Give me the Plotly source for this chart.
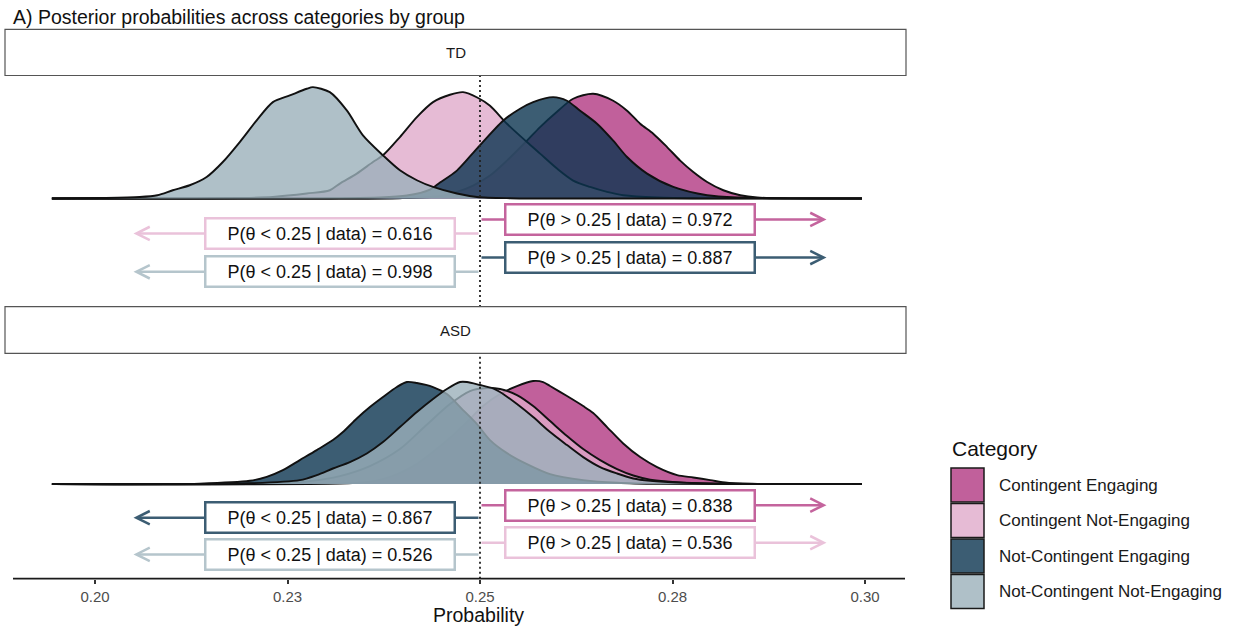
import plotly.graph_objects as go

W, H = 1245, 627

# ---------------- data ----------------
categories = ["Contingent Engaging", "Contingent Not-Engaging",
              "Not-Contingent Engaging", "Not-Contingent Not-Engaging"]
groups = ["TD", "ASD"]

# TD posterior densities (scaled density)
td_ce_x = [0.1944, 0.2396, 0.2448, 0.2470, 0.2491, 0.2513, 0.2535, 0.2561, 0.2578, 0.2600, 0.2621,
           0.2647, 0.2673, 0.2691, 0.2708, 0.2725, 0.2743, 0.2760, 0.2777, 0.2795, 0.2816, 0.2838,
           0.2860, 0.2903, 0.2996]
td_ce_y = [0, 0.3, 2.3, 6.6, 13, 23, 38, 58, 71.6, 87, 100,
           105, 98, 88, 75, 65, 51.6, 38, 26.6, 16.6, 8.3, 3.3,
           1, 0.2, 0]

td_cne_x = [0.1944, 0.2136, 0.2188, 0.2231, 0.2275, 0.2305, 0.2318, 0.2340, 0.2361, 0.2374, 0.2396,
            0.2418, 0.2439, 0.2461, 0.2478, 0.2497, 0.2513, 0.2535, 0.2561, 0.2578, 0.2600, 0.2621,
            0.2643, 0.2665, 0.2686, 0.2730, 0.2786, 0.2996]
td_cne_y = [0, 0.2, 0.6, 1.6, 5, 8.3, 15, 25, 36.6, 43.3, 61.6,
            81.6, 96.6, 104, 106.6, 101, 93, 75, 56.6, 45, 30, 18,
            11.6, 6.6, 3.3, 1, 0.2, 0]

td_nce_x = [0.1944, 0.2305, 0.2370, 0.2405, 0.2435, 0.2448, 0.2470, 0.2496, 0.2530, 0.2552, 0.2569,
            0.2595, 0.2613, 0.2630, 0.2652, 0.2673, 0.2691, 0.2717, 0.2751, 0.2795, 0.2838, 0.2890,
            0.2996]
td_nce_y = [0, 0.3, 1, 3, 9, 16, 28, 50, 78, 90, 96.6,
            101.6, 98, 88, 75, 58, 41.6, 25, 11.6, 3.3, 1, 0.2,
            0]

td_ncne_x = [0.1944, 0.2007, 0.2058, 0.2081, 0.2101, 0.2123, 0.2145, 0.2166, 0.2188, 0.2210, 0.2231,
             0.2253, 0.2275, 0.2283, 0.2305, 0.2327, 0.2348, 0.2374, 0.2396, 0.2418, 0.2439, 0.2470,
             0.2496, 0.2539, 0.2600, 0.2996]
td_ncne_y = [0, 0.5, 1.5, 3.3, 8.3, 13.3, 21.6, 36.6, 56.6, 78.3, 96.6,
             103.3, 110, 111.6, 106.6, 88.3, 63.3, 43.3, 28.3, 18.3, 11.6, 5,
             1.6, 0.3, 0, 0]

# ASD posterior densities
asd_ce_x = [0.1944, 0.2318, 0.2353, 0.2374, 0.2396, 0.2418, 0.2439, 0.2461, 0.2483, 0.2504, 0.2526,
            0.2548, 0.2569, 0.2582, 0.2591, 0.2613, 0.2634, 0.2647, 0.2665, 0.2686, 0.2708, 0.2730,
            0.2756, 0.2777, 0.2799, 0.2821, 0.2864, 0.2996]
asd_ce_y = [0, 0.5, 2, 5, 11, 20, 32, 46, 62, 78, 90,
            98, 103, 102, 98, 88, 78, 71, 57, 40.6, 27, 17,
            9, 6.6, 4, 1.3, 0.2, 0]

asd_cne_x = [0.1944, 0.2214, 0.2279, 0.2318, 0.2357, 0.2396, 0.2429, 0.2461, 0.2487, 0.2509, 0.2526,
             0.2548, 0.2569, 0.2591, 0.2613, 0.2634, 0.2656, 0.2678, 0.2699, 0.2721, 0.2764, 0.2825,
             0.2996]
asd_cne_y = [0, 0.5, 3, 8, 18, 35, 58, 80, 93, 96, 95,
             89, 78, 63, 48, 35, 24, 15, 8.6, 4.5, 1.5, 0.3,
             0]

asd_nce_x = [0.1944, 0.2136, 0.2201, 0.2223, 0.2244, 0.2266, 0.2288, 0.2309, 0.2322, 0.2340, 0.2357,
             0.2374, 0.2392, 0.2405, 0.2418, 0.2439, 0.2457, 0.2478, 0.2496, 0.2513, 0.2535, 0.2561,
             0.2591, 0.2634, 0.2678, 0.2734, 0.2996]
asd_nce_y = [0, 0.5, 3.3, 7.3, 14, 24, 34, 44, 52, 65.6, 77,
             87, 97, 102, 101, 97, 90, 74, 60, 44, 31, 20,
             10, 4, 1.3, 0.2, 0]

asd_ncne_x = [0.1944, 0.2188, 0.2266, 0.2288, 0.2309, 0.2331, 0.2353, 0.2374, 0.2396, 0.2418, 0.2439,
              0.2457, 0.2474, 0.2483, 0.2500, 0.2517, 0.2526, 0.2548, 0.2569, 0.2591, 0.2613, 0.2634,
              0.2656, 0.2678, 0.2699, 0.2721, 0.2764, 0.2812, 0.2996]
asd_ncne_y = [0, 0.5, 4, 9, 15.6, 22, 30.6, 42, 57, 72, 85,
              95, 102, 102, 99, 95.6, 92, 80, 67, 52, 39, 27,
              17, 10.6, 5.6, 3.3, 1.3, 0.3, 0]

# posterior tail probabilities
td_ops = [">", "<", ">", "<"]
td_probs = [0.972, 0.616, 0.887, 0.998]
asd_ops = [">", ">", "<", "<"]
asd_probs = [0.838, 0.536, 0.867, 0.526]

threshold = 0.25
tick_vals = [0.20, 0.225, 0.25, 0.275, 0.30]
tick_text = ["0.20", "0.23", "0.25", "0.28", "0.30"]

# ---------------- styles ----------------
solid_cols = ["#C1609B", "#E6BBD5", "#3C5D73", "#AFC0C8"]
fill_cols = ["rgba(178,56,130,0.8)", "rgba(224,170,203,0.8)",
             "rgba(11,53,80,0.8)", "rgba(155,176,186,0.8)"]
border_cols = ["#C4649D", "#EAC2DA", "#3C5D73", "#B5C5CC"]

FONT = "Liberation Sans, Arial, Helvetica, sans-serif"


def fx(px):
    return px / W


def fy(py):
    return 1 - py / H


x_range = [0.25 - 475 / 7700, 0.25 + 426 / 7700]
x_dom = [fx(5), fx(906)]

panels = {
    "TD": dict(xa="x", ya="y", yrange=[-108.7, 123.3], ydom=[fy(307), fy(75.5)],
               xs=[td_ce_x, td_cne_x, td_nce_x, td_ncne_x],
               ys=[td_ce_y, td_cne_y, td_nce_y, td_ncne_y],
               ops=td_ops, probs=td_probs, box_y=[-21, -35, -59.2, -73.4],
               strip=[29.3, 75.5]),
    "ASD": dict(xa="x2", ya="y2", yrange=[-94.5, 130.7], ydom=[fy(578.7), fy(353.3)],
                xs=[asd_ce_x, asd_cne_x, asd_nce_x, asd_ncne_x],
                ys=[asd_ce_y, asd_cne_y, asd_nce_y, asd_ncne_y],
                ops=asd_ops, probs=asd_probs, box_y=[-21, -58.5, -33.5, -70.2],
                strip=[306.7, 353.3]),
}

fig = go.Figure()
shapes = []
annotations = []

for g in groups:
    p = panels[g]
    for i, cat in enumerate(categories):
        fig.add_trace(go.Scatter(
            x=p["xs"][i], y=p["ys"][i], mode="lines", name=cat,
            line=dict(color="#111111", width=1.9, shape="spline", smoothing=0.8),
            fill="tozeroy", fillcolor=fill_cols[i],
            xaxis=p["xa"], yaxis=p["ya"], showlegend=False, hoverinfo="skip"))
    # threshold line
    shapes.append(dict(type="line", xref=p["xa"], yref=p["ya"] + " domain",
                       x0=threshold, x1=threshold, y0=0, y1=1,
                       line=dict(color="#222222", width=1.8, dash="2px,3px"), layer="above"))
    # strip
    shapes.append(dict(type="rect", xref="paper", yref="paper",
                       x0=fx(5), x1=fx(906), y0=fy(p["strip"][1]), y1=fy(p["strip"][0]),
                       line=dict(color="#555555", width=1.2), fillcolor="white"))
    annotations.append(dict(xref="paper", yref="paper", x=fx(455.5),
                            y=fy((p["strip"][0] + p["strip"][1]) / 2),
                            text=g, showarrow=False, xanchor="center", yanchor="middle",
                            font=dict(family=FONT, size=15, color="#1a1a1a")))
    # arrows first
    for i, cat in enumerate(categories):
        op = p["ops"][i]
        tip = 0.295 if op == ">" else 0.205
        annotations.append(dict(xref=p["xa"], yref=p["ya"], axref=p["xa"], ayref=p["ya"],
                                x=tip, y=p["box_y"][i], ax=threshold, ay=p["box_y"][i],
                                text="", showarrow=True, arrowhead=5, arrowsize=1.05,
                                arrowwidth=2.5, arrowcolor=border_cols[i],
                                standoff=0, startstandoff=0))
    # boxes
    for i, cat in enumerate(categories):
        op = p["ops"][i]
        cx = 0.2695 if op == ">" else 0.2305
        annotations.append(dict(xref=p["xa"], yref=p["ya"], x=cx, y=p["box_y"][i],
                                text=f"P(θ {op} 0.25 | data) = {p['probs'][i]:.3f}",
                                showarrow=False, xanchor="center", yanchor="middle",
                                width=247, height=28, bordercolor=border_cols[i],
                                borderwidth=2.5, borderpad=0, bgcolor="white",
                                font=dict(family=FONT, size=18, color="#111111")))

# bottom axis line
shapes.append(dict(type="line", xref="paper", yref="paper", x0=fx(13), x1=fx(905),
                   y0=fy(578.7), y1=fy(578.7), line=dict(color="#1a1a1a", width=1.8)))

# title and axis title
annotations.append(dict(xref="paper", yref="paper", x=fx(11), y=fy(17),
                        text="A) Posterior probabilities across categories by group",
                        showarrow=False, xanchor="left", yanchor="middle",
                        font=dict(family=FONT, size=19.5, color="#111111")))
annotations.append(dict(xref="paper", yref="paper", x=fx(479), y=fy(615),
                        text="Probability", showarrow=False, xanchor="center", yanchor="middle",
                        font=dict(family=FONT, size=19.5, color="#111111")))

# manual legend
annotations.append(dict(xref="paper", yref="paper", x=fx(950), y=fy(448),
                        text="Category", showarrow=False, xanchor="left", yanchor="middle",
                        font=dict(family=FONT, size=21, color="#111111")))
for i, cat in enumerate(categories):
    top = 468 + i * 35.5
    shapes.append(dict(type="rect", xref="paper", yref="paper",
                       x0=fx(951), x1=fx(984), y0=fy(top + 34), y1=fy(top),
                       line=dict(color="#1a1a1a", width=1.5), fillcolor=fill_cols[i]))
    annotations.append(dict(xref="paper", yref="paper", x=fx(997), y=fy(top + 17),
                            text=cat, showarrow=False, xanchor="left", yanchor="middle",
                            font=dict(family=FONT, size=17, color="#1a1a1a")))

fig.update_layout(
    width=W, height=H, margin=dict(l=0, r=0, t=0, b=0),
    paper_bgcolor="white", plot_bgcolor="rgba(0,0,0,0)",
    font=dict(family=FONT),
    shapes=shapes, annotations=annotations,
    xaxis=dict(domain=x_dom, range=x_range, anchor="y", visible=False, fixedrange=True),
    yaxis=dict(domain=panels["TD"]["ydom"], range=panels["TD"]["yrange"], anchor="x",
               visible=False),
    xaxis2=dict(domain=x_dom, range=x_range, anchor="y2", showgrid=False, zeroline=False,
                showline=False, ticks="outside", ticklen=4, tickwidth=1.5, tickcolor="#333333",
                tickvals=tick_vals, ticktext=tick_text,
                tickfont=dict(family=FONT, size=15, color="#4d4d4d")),
    yaxis2=dict(domain=panels["ASD"]["ydom"], range=panels["ASD"]["yrange"], anchor="x2",
                visible=False),
    showlegend=False,
)

fig.write_html("out.html")
